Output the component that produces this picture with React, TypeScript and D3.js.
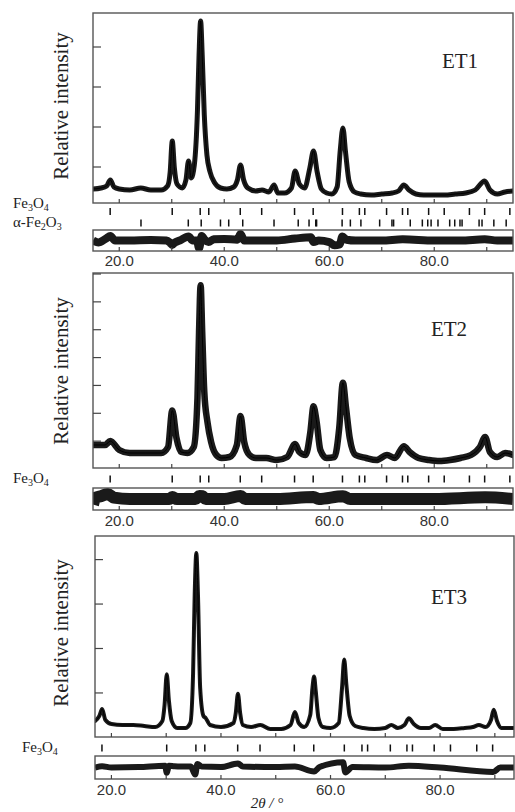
import * as d3 from "d3";

// reflection positions (2θ, Cu Kα) for the tick rows
const FE3O4_REFL = [18.27, 30.09, 35.42, 37.05, 43.05, 47.13, 53.39, 56.94, 62.52, 65.74, 66.77, 70.92, 73.95, 74.96, 78.93, 81.9, 86.7, 89.6, 94.4];
const HEMATITE_REFL = [24.14, 33.15, 35.61, 39.28, 40.85, 43.52, 49.48, 54.09, 56.15, 57.43, 57.59, 62.45, 64.02, 66.03, 69.6, 71.94, 72.26, 75.43, 77.73, 78.76, 79.4, 80.71, 82.94, 83.9, 84.9, 85.3, 88.54, 89.1, 91.35, 93.7];

const X_TICK_LABELS = [20, 40, 60, 80];
const X_MINOR_TICKS = [20, 30, 40, 50, 60, 70, 80, 90];

const ET1_OBS: [number, number][] = [
  [15, 450], [16.5, 475], [17.6, 525], [18.3, 675], [19, 500], [20, 450], [22, 425], [24.1, 475],
  [26, 425], [28, 425], [29.2, 525], [29.7, 875], [30.1, 1650], [30.5, 975], [31, 575], [32, 475],
  [32.7, 675], [33.2, 1150], [33.7, 725], [34.3, 1050], [34.9, 2425], [35.2, 3800], [35.5, 4650],
  [35.8, 3800], [36.2, 2300], [36.7, 1300], [37.3, 875], [38.2, 600], [39.3, 475], [40.5, 450],
  [41.8, 500], [42.5, 675], [43.1, 1050], [43.7, 675], [44.5, 475], [46, 400], [47.2, 425],
  [48.5, 375], [49.5, 550], [50.2, 350], [51.5, 350], [52.8, 475], [53.5, 900], [54.3, 575],
  [55.3, 475], [56.3, 975], [57, 1400], [57.7, 875], [58.5, 450], [59.5, 350], [60.5, 325],
  [61.5, 500], [62.1, 1425], [62.6, 1975], [63.1, 1375], [63.8, 625], [64.8, 375], [66, 325],
  [68, 300], [70, 325], [72, 350], [73.2, 400], [74.2, 550], [75.2, 425], [76.5, 325], [78, 300],
  [80, 300], [82, 300], [84, 325], [86, 350], [87.8, 425], [89.6, 650], [90.6, 425], [92, 325],
  [93.5, 375], [95, 400],
];
const ET1_DIFF: [number, number][] = [
  [15, 0], [16, -50], [17.5, 50], [18.3, 110], [19.2, 0], [22, 0], [26, 10], [29, 0], [29.7, -60],
  [30.1, -110], [30.6, -50], [31.5, 0], [33.2, 100], [34, 0], [34.8, 0], [35.2, -190], [35.5, -30],
  [35.7, 110], [36.3, 20], [37, -40], [38, 30], [40, 40], [42.5, 20], [43.1, 160], [43.8, 0], [46, 0],
  [50, 0], [53.5, 50], [56.5, 80], [57, -40], [58, 0], [60, -40], [61, -120], [62, -100], [62.5, 100],
  [63.3, 20], [65, 0], [70, 0], [74, 30], [80, 0], [85, 0], [89.6, 30], [92, 0], [95, 0],
];

const ET2_OBS: [number, number][] = [
  [15, 862], [17.3, 862], [18.3, 1005], [20, 682], [22, 574], [25, 574], [28, 574], [29.3, 790],
  [30.1, 2100], [30.9, 1113], [31.8, 610], [33, 574], [34.2, 790], [34.9, 2549], [35.2, 4918],
  [35.5, 6600], [35.8, 4918], [36.2, 2764], [36.8, 1687], [37.5, 969], [38.5, 503], [39.5, 395],
  [41, 431], [42.4, 862], [43.1, 1900], [43.8, 969], [44.8, 503], [46, 395], [48, 395], [50, 323],
  [52, 431], [53.5, 900], [54.3, 610], [55.5, 503], [56.4, 1328], [57, 2250], [57.6, 1687],
  [58.3, 682], [59.5, 395], [61, 431], [61.9, 1472], [62.6, 3100], [63.2, 2190], [63.9, 1113],
  [65, 503], [67, 395], [69, 323], [71, 503], [72.5, 395], [74.2, 820], [75.3, 610], [77, 395],
  [79, 323], [81, 287], [83, 323], [85, 395], [87, 503], [88.7, 790], [89.7, 1150], [90.6, 610],
  [92, 431], [93.5, 574], [95, 503],
];
const ET2_DIFF: [number, number][] = [
  [15, -200], [15.5, 50], [16.5, 100], [17.8, 180], [19, 50], [22, 0], [26, 0], [29.5, 0], [30.1, 70],
  [31, 0], [34.5, 0], [35.3, 110], [35.8, 100], [36.5, 0], [40, 0], [43.1, 110], [44, 0], [50, 0],
  [57, 70], [58, 0], [62.6, 100], [64, 0], [70, 0], [80, 0], [89.7, 60], [95, 0],
];

const ET3_OBS: [number, number][] = [
  [17, 369], [17.8, 482], [18.3, 640], [18.9, 392], [20, 302], [22, 279], [24, 279], [26, 257],
  [28, 234], [29.3, 369], [29.7, 729], [30.1, 1420], [30.5, 819], [31, 369], [32, 212], [33.5, 212],
  [34.4, 324], [34.9, 1404], [35.2, 3204], [35.5, 4150], [35.8, 3204], [36.2, 1112], [36.8, 482],
  [37.2, 437], [38, 279], [40, 234], [42.3, 324], [42.7, 549], [43.1, 980], [43.5, 549], [44, 279],
  [45.5, 234], [47.2, 279], [49, 189], [51, 189], [52.7, 279], [53.5, 570], [54.2, 324], [55.2, 234],
  [56.3, 504], [56.7, 1112], [57, 1370], [57.3, 1044], [57.8, 437], [58.6, 234], [60, 212],
  [61.5, 324], [62.1, 1112], [62.5, 1750], [62.9, 1179], [63.5, 482], [64.5, 257], [66, 212],
  [68, 189], [70, 212], [71.1, 279], [72.3, 212], [73.5, 279], [74.3, 430], [75.2, 302], [76.5, 212],
  [78, 212], [79.1, 279], [80.5, 189], [82.5, 189], [84.5, 212], [86, 234], [87.1, 279], [88.3, 234],
  [89.3, 392], [89.8, 620], [90.4, 369], [91.2, 212], [92.5, 212], [93.5, 212],
];
const ET3_DIFF: [number, number][] = [
  [17, 0], [18.3, 30], [20, 0], [25, 10], [29.8, 40], [30.1, -120], [30.5, 40], [31.5, 30], [34.5, 20],
  [35.3, -160], [35.7, 80], [36.5, 20], [40, 10], [43.1, 90], [44, 20], [50, 10], [53.5, 20], [57, -90],
  [58, 10], [62.3, 120], [62.7, -110], [64, 10], [70, 0], [74.3, 40], [80, 0], [89.7, -100], [91, 0],
  [93.5, 0],
];

const Y_TICKS_ET1 = [1000, 2000, 3000, 4000];
const Y_TICKS_ET2 = [1000, 2000, 3000, 4000, 5000, 6000, 7000];
const Y_TICKS_ET3 = [1000, 2000, 3000, 4000];

const SERIF = "Liberation Serif, DejaVu Serif, Times New Roman, serif";
const SANS = "Liberation Sans, Arial, sans-serif";

type Phase = { key: string; refl: number[]; y: number; labelX: number; labelY: number };

const panels = [
  {
    id: "et1", name: "ET1", obs: ET1_OBS, diff: ET1_DIFF, yTicks: Y_TICKS_ET1,
    xDomain: [15, 95], xRange: [93, 513], yDomain: [100, 4850], yRange: [203, 13],
    diffDomain: [-262, 262], diffRange: [251, 230], obsWidth: 5, diffWidth: 8,
    nameX: 460, nameY: 68, ylabelY: 106, tickLabelY: 266,
    phases: [
      { key: "fe3o4", refl: FE3O4_REFL, y: 211.5, labelX: 13, labelY: 208 },
      { key: "hem", refl: HEMATITE_REFL, y: 223, labelX: 13, labelY: 227 },
    ] as Phase[],
  },
  {
    id: "et2", name: "ET2", obs: ET2_OBS, diff: ET2_DIFF, yTicks: Y_TICKS_ET2,
    xDomain: [15, 95], xRange: [93, 513], yDomain: [36, 7036], yRange: [468, 273],
    diffDomain: [-395, 395], diffRange: [510, 488], obsWidth: 6.5, diffWidth: 12,
    nameX: 449, nameY: 336, ylabelY: 371, tickLabelY: 526,
    phases: [{ key: "fe3o4", refl: FE3O4_REFL, y: 479, labelX: 13, labelY: 483 }] as Phase[],
  },
  {
    id: "et3", name: "ET3", obs: ET3_OBS, diff: ET3_DIFF, yTicks: Y_TICKS_ET3,
    xDomain: [17, 93.5], xRange: [95, 514], yDomain: [9, 4531], yRange: [737, 536],
    diffDomain: [-259, 259], diffRange: [779, 756], obsWidth: 4, diffWidth: 6,
    nameX: 449, nameY: 604, ylabelY: 633, tickLabelY: 795,
    phases: [{ key: "fe3o4", refl: FE3O4_REFL, y: 748, labelX: 22, labelY: 752 }] as Phase[],
  },
];

function PhaseLabel({ k, x, y }: { k: string; x: number; y: number }) {
  const sub = { fontSize: 10 };
  if (k === "fe3o4") {
    return (
      <text x={x} y={y} fontFamily={SERIF} fontSize={15} fill="#222">
        Fe<tspan dy={2.5} style={sub}>3</tspan>
        <tspan dy={-2.5}>O</tspan>
        <tspan dy={2.5} style={sub}>4</tspan>
      </text>
    );
  }
  return (
    <text x={x} y={y} fontFamily={SERIF} fontSize={15} fill="#222">
      α-Fe<tspan dy={2.5} style={sub}>2</tspan>
      <tspan dy={-2.5}>O</tspan>
      <tspan dy={2.5} style={sub}>3</tspan>
    </text>
  );
}

function Panel({ p }: { p: (typeof panels)[0] }) {
  const x = d3.scaleLinear().domain(p.xDomain).range(p.xRange);
  const y = d3.scaleLinear().domain(p.yDomain).range(p.yRange);
  const yd = d3.scaleLinear().domain(p.diffDomain).range(p.diffRange);

  const obsLine = d3
    .line<[number, number]>()
    .x((d) => x(d[0]))
    .y((d) => y(d[1]))
    .curve(d3.curveMonotoneX);
  const diffLine = d3
    .line<[number, number]>()
    .x((d) => x(d[0]))
    .y((d) => yd(d[1]))
    .curve(d3.curveMonotoneX);

  const [left, right] = p.xRange;
  const [bottom, top] = p.yRange;
  const [dBottom, dTop] = p.diffRange;
  const inX = (v: number) => v >= p.xDomain[0] && v <= p.xDomain[1];

  return (
    <g>
      <defs>
        <clipPath id={`${p.id}-main`}>
          <rect x={left} y={top} width={right - left} height={bottom - top} />
        </clipPath>
        <clipPath id={`${p.id}-diff`}>
          <rect x={left} y={dTop} width={right - left} height={dBottom - dTop} />
        </clipPath>
      </defs>

      {/* observed + calculated */}
      <g clipPath={`url(#${p.id}-main)`}>
        <path d={obsLine(p.obs) ?? ""} fill="none" stroke="#1a1a1a" strokeWidth={p.obsWidth} strokeLinejoin="round" strokeLinecap="round" />
        <path d={obsLine(p.obs) ?? ""} fill="none" stroke="#000" strokeWidth={1} />
      </g>

      {/* difference */}
      <g clipPath={`url(#${p.id}-diff)`}>
        <path d={diffLine(p.diff) ?? ""} fill="none" stroke="#1a1a1a" strokeWidth={p.diffWidth} strokeLinejoin="round" />
      </g>

      {/* frames */}
      <rect x={left} y={top} width={right - left} height={bottom - top} fill="none" stroke="#555" strokeWidth={1.4} />
      <rect x={left} y={dTop} width={right - left} height={dBottom - dTop} fill="none" stroke="#555" strokeWidth={1.4} />

      {/* y ticks, inward */}
      {p.yTicks.map((t) => (
        <line key={t} x1={left} x2={left + 8} y1={y(t)} y2={y(t)} stroke="#444" strokeWidth={1.2} />
      ))}

      {/* x ticks on main and difference boxes */}
      {X_MINOR_TICKS.filter(inX).map((t) => (
        <g key={t}>
          <line x1={x(t)} x2={x(t)} y1={bottom} y2={bottom - 4} stroke="#444" strokeWidth={1.2} />
          <line x1={x(t)} x2={x(t)} y1={dBottom} y2={dBottom - 4} stroke="#444" strokeWidth={1.2} />
        </g>
      ))}

      {X_TICK_LABELS.map((t) => (
        <text key={t} x={x(t)} y={p.tickLabelY} textAnchor="middle" fontFamily={SANS} fontSize={15} fill="#333">
          {d3.format(".1f")(t)}
        </text>
      ))}

      {/* reflection markers */}
      {p.phases.map((ph) => (
        <g key={ph.key}>
          {ph.refl.filter(inX).map((r, i) => (
            <line key={i} x1={x(r)} x2={x(r)} y1={ph.y - 3.5} y2={ph.y + 3.5} stroke="#111" strokeWidth={1.5} />
          ))}
          <PhaseLabel k={ph.key} x={ph.labelX} y={ph.labelY} />
        </g>
      ))}

      <text x={p.nameX} y={p.nameY} textAnchor="middle" fontFamily={SERIF} fontSize={21} fill="#222">
        {p.name}
      </text>
      <text
        transform={`translate(68,${p.ylabelY}) rotate(-90)`}
        textAnchor="middle"
        fontFamily={SERIF}
        fontSize={21}
        fill="#222"
      >
        Relative intensity
      </text>
    </g>
  );
}

export default function App() {
  return (
    <svg width={515} height={812} style={{ position: "absolute", left: 0, top: 0, background: "#fff" }}>
      {panels.map((p) => (
        <Panel key={p.id} p={p} />
      ))}
      <text x={267} y={808} textAnchor="middle" fontFamily={SERIF} fontSize={15} fontStyle="italic" fill="#222">
        2θ / °
      </text>
    </svg>
  );
}
